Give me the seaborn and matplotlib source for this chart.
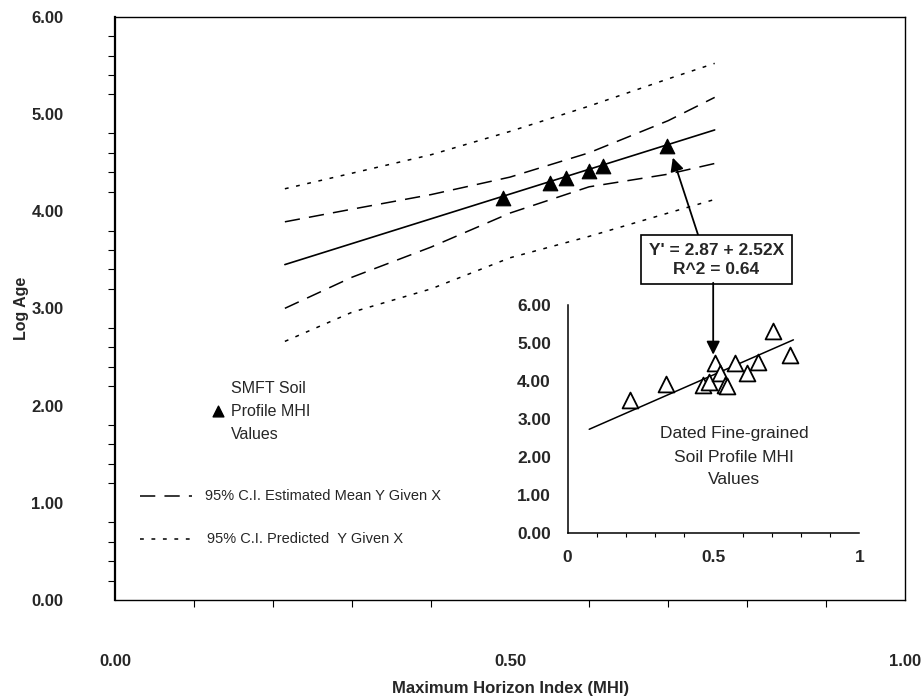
import numpy as np
import pandas as pd
import matplotlib
matplotlib.use('Agg')
import matplotlib.pyplot as plt
import seaborn as sns
from matplotlib.ticker import MultipleLocator, FormatStrFormatter

# SMFT soil profiles (main plot)
smft_mhi = [0.4915, 0.551, 0.571, 0.600, 0.618, 0.699]
smft_log_age = [4.13, 4.29, 4.34, 4.41, 4.46, 4.67]

# fitted line and confidence curves
fit_x = [0.215, 0.759]
fit_y = [3.45, 4.835]
ci_x = [0.215, 0.30, 0.40, 0.50, 0.60, 0.70, 0.759]
mean_upper = [3.89, 4.02, 4.17, 4.35, 4.60, 4.93, 5.17]
mean_lower = [3.00, 3.32, 3.63, 3.98, 4.25, 4.38, 4.49]
pred_upper = [4.23, 4.39, 4.58, 4.82, 5.08, 5.36, 5.52]
pred_lower = [2.66, 2.96, 3.20, 3.52, 3.74, 3.98, 4.12]

# dated fine-grained soil profiles (inset)
dated_mhi = [0.214, 0.336, 0.465, 0.486, 0.505, 0.522, 0.539, 0.545,
             0.574, 0.614, 0.654, 0.703, 0.762]
dated_log_age = [3.50, 3.92, 3.90, 3.98, 4.48, 4.20, 3.90, 3.88,
                 4.48, 4.20, 4.51, 5.32, 4.69]
inset_fit_x = [0.074, 0.774]
inset_fit_y = [2.73, 5.08]

sns.set_style('white')
plt.rcParams['font.family'] = ['Liberation Sans', 'DejaVu Sans']

fig = plt.figure(figsize=(9.23, 6.96), dpi=100)
ax = fig.add_axes([0.1246, 0.138, 0.856, 0.838])

main = pd.DataFrame({'MHI': smft_mhi, 'LogAge': smft_log_age})
fit = pd.DataFrame({'MHI': fit_x, 'LogAge': fit_y})

sns.lineplot(data=fit, x='MHI', y='LogAge', ax=ax, color='black', lw=1.2)
ax.plot(ci_x, mean_upper, color='black', lw=1.1, dashes=(10, 6))
ax.plot(ci_x, mean_lower, color='black', lw=1.1, dashes=(10, 6))
ax.plot(ci_x, pred_upper, color='black', lw=1.1, dashes=(2.5, 5))
ax.plot(ci_x, pred_lower, color='black', lw=1.1, dashes=(2.5, 5))
sns.scatterplot(data=main, x='MHI', y='LogAge', ax=ax, marker='^',
                color='black', s=110, edgecolor='black', zorder=5)

ax.set_xlim(0, 1)
ax.set_ylim(0, 6)
ax.xaxis.set_major_locator(MultipleLocator(0.5))
ax.xaxis.set_minor_locator(MultipleLocator(0.1))
ax.yaxis.set_major_locator(MultipleLocator(1))
ax.yaxis.set_minor_locator(MultipleLocator(0.2))
ax.xaxis.set_major_formatter(FormatStrFormatter('%.2f'))
ax.yaxis.set_major_formatter(FormatStrFormatter('%.2f'))
ax.tick_params(which='major', direction='inout', length=14, width=1.1,
               color='black', labelsize=12, pad=30)
ax.tick_params(which='minor', direction='out', length=5, width=0.8,
               color='black')
ax.tick_params(axis='x', which='major', pad=32)
ax.tick_params(axis='x', which='minor', bottom=True)
ax.tick_params(axis='y', which='minor', left=True)
for lab in ax.get_xticklabels() + ax.get_yticklabels():
    lab.set_fontweight('bold')
for sp in ax.spines.values():
    sp.set_color('black')
    sp.set_linewidth(1.0)
ax.spines['left'].set_linewidth(1.6)
ax.set_xlabel('')
ax.set_ylabel('Log Age', fontsize=11.5, fontweight='bold', labelpad=2)
fig.text(0.553, 0.0, 'Maximum Horizon Index (MHI)', ha='center',
         va='bottom', fontsize=12, fontweight='bold',
         family=['Liberation Sans Narrow', 'Liberation Sans'])

# legend-like annotations
ax.scatter([0.130], [1.94], marker='^', color='black', s=60, zorder=5)
for txt, yy in zip(['SMFT Soil', 'Profile MHI', 'Values'], [2.18, 1.94, 1.70]):
    ax.text(0.147, yy, txt, fontsize=11.5, va='center', ha='left')
ax.plot([0.032, 0.097], [1.07, 1.07], color='black', lw=1.1, dashes=(10, 6))
ax.text(0.114, 1.07, '95% C.I. Estimated Mean Y Given X', fontsize=10.5,
        va='center', ha='left')
ax.plot([0.032, 0.101], [0.63, 0.63], color='black', lw=1.1, dashes=(2.5, 5))
ax.text(0.117, 0.63, '95% C.I. Predicted  Y Given X', fontsize=10.5,
        va='center', ha='left')

# equation box and arrow to main
ax.annotate('', xy=(0.706, 4.55), xytext=(0.739, 3.73),
            arrowprops=dict(arrowstyle='-|>', color='black', lw=1.3,
                            mutation_scale=20, shrinkA=0, shrinkB=0))
ax.text(0.761, 3.50, "Y' = 2.87 + 2.52X\nR^2 = 0.64", fontsize=12.5,
        fontweight='bold', ha='center', va='center', linespacing=1.3,
        bbox=dict(boxstyle='square,pad=0.45', fc='white', ec='black', lw=1.2))

# inset
ins = fig.add_axes([0.615, 0.234, 0.316, 0.328])
ins.patch.set_alpha(0)
inset_df = pd.DataFrame({'MHI': dated_mhi, 'LogAge': dated_log_age})
inset_fit = pd.DataFrame({'MHI': inset_fit_x, 'LogAge': inset_fit_y})
sns.lineplot(data=inset_fit, x='MHI', y='LogAge', ax=ins, color='black', lw=1.1)
sns.scatterplot(data=inset_df, x='MHI', y='LogAge', ax=ins, marker='^',
                s=130, facecolor='white', edgecolor='black', linewidth=1.3,
                zorder=5)
ins.set_xlim(0, 1)
ins.set_ylim(0, 6)
ins.xaxis.set_major_locator(MultipleLocator(0.5))
ins.xaxis.set_minor_locator(MultipleLocator(0.1))
ins.yaxis.set_major_locator(MultipleLocator(1))
ins.xaxis.set_major_formatter(FormatStrFormatter('%g'))
ins.yaxis.set_major_formatter(FormatStrFormatter('%.2f'))
ins.tick_params(which='major', direction='inout', length=6, width=1,
                color='black', labelsize=12.5, pad=9)
ins.tick_params(which='minor', direction='out', length=3, width=0.8,
                color='black')
ins.tick_params(axis='x', which='minor', bottom=True)
for lab in ins.get_xticklabels() + ins.get_yticklabels():
    lab.set_fontweight('bold')
ins.spines['top'].set_visible(False)
ins.spines['right'].set_visible(False)
for side in ['left', 'bottom']:
    ins.spines[side].set_color('black')
    ins.spines[side].set_linewidth(1.1)
ins.set_xlabel('')
ins.set_ylabel('')
for txt, yy in zip(['Dated Fine-grained', 'Soil Profile MHI', 'Values'],
                   [2.61, 2.00, 1.40]):
    ins.text(0.57, yy, txt, fontsize=12.5, ha='center', va='center')
ins.annotate('', xy=(0.499, 4.69), xytext=(0.499, 6.58),
             arrowprops=dict(arrowstyle='-|>', color='black', lw=1.3,
                             mutation_scale=20, shrinkA=0, shrinkB=0))

fig.savefig('out.png', dpi=100)
